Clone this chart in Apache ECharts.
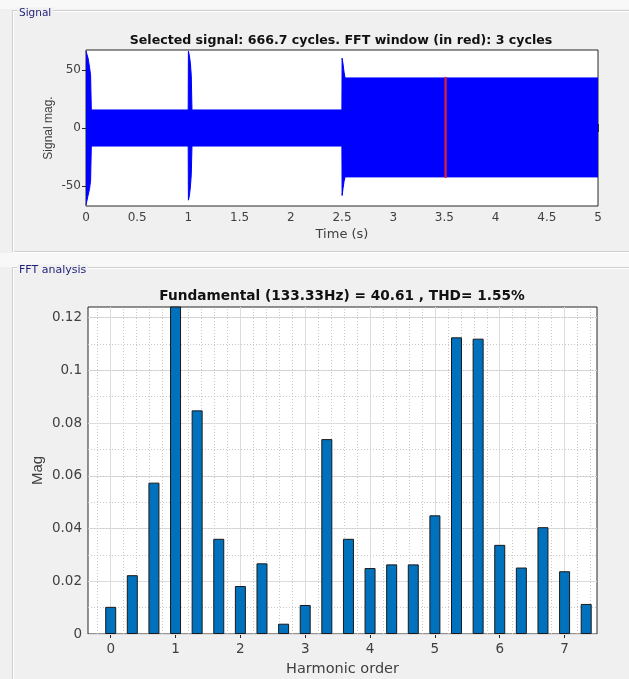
<!DOCTYPE html>
<html>
<head>
<meta charset="utf-8">
<title>Signal / FFT analysis</title>
<script src="https://cdn.jsdelivr.net/npm/echarts@6/dist/echarts.min.js"></script>
<style>
	html, body { margin: 0; padding: 0; background: #f0f0f0; }
	#chart { width: 629px; height: 679px; }
</style>
</head>
<body>
<div id="chart"></div>
<script>
/*******************************/
/*data*/
/*******************************/
//signal envelope: time (s), upper and lower peaks
var sigTime  = [0, 0.012, 0.02, 0.035, 0.045, 0.052, 0.998, 1.0, 1.01, 1.02, 1.028, 1.035, 2.499, 2.501, 2.51, 2.52, 2.53, 5.0];
var sigUpper = [66, 66, 60, 52, 45, 15.5, 15.5, 66, 62, 55, 45, 15.5, 15.5, 60, 55, 48, 43, 43];
var sigLower = [-66, -66, -58, -52, -45, -15.5, -15.5, -62, -58, -50, -40, -15.5, -15.5, -58, -52, -46, -42, -42];
//FFT window (3 cycles of 133.33 Hz)
var winTime  = [3.5, 3.5225];
var winUpper = [43, 43];
var winLower = [-42, -42];
var sigYTicks = [-50, 0, 50];

//harmonic spectrum
var harmOrder = [0, 0.3333, 0.6667, 1, 1.3333, 1.6667, 2, 2.3333, 2.6667, 3, 3.3333, 3.6667,
	4, 4.3333, 4.6667, 5, 5.3333, 5.6667, 6, 6.3333, 6.6667, 7, 7.3333];
var harmMag = [0.0103, 0.0223, 0.0574, 40.61, 0.0848, 0.0361, 0.0182, 0.0268, 0.0039, 0.011, 0.0739, 0.0361,
	0.025, 0.0264, 0.0264, 0.045, 0.1125, 0.112, 0.0338, 0.0252, 0.0405, 0.0238, 0.0114];
var fftXTicks = [0, 1, 2, 3, 4, 5, 6, 7];
var fftYTicks = [0, 0.02, 0.04, 0.06, 0.08, 0.1, 0.12];

/*******************************/
/*style constants*/
/*******************************/
var WIDE = '"DejaVu Sans", Verdana, sans-serif';
var FONT = '"Liberation Sans", Arial, sans-serif';
var INK = '#262626';
var LABEL = '#404040';
var BLUE = '#0000ff';
var RED = '#d81e3c';

/*
**pair two arrays into [x, y] points
*/
function zip(xs, ys) {
	return xs.map(function (x, i) { return [x, ys[i]]; });
}

/*
**grid lines for the FFT plot (major solid, minor dotted)
*/
function gridLines(ticks, step, lo, hi, key) {
	var lines = [];
	var major = step[0], minorStep = step[1];
	ticks.forEach(function (t) {
		var item = { lineStyle: { color: '#dcdcdc', type: 'solid', width: 1 } };
		item[key] = t;
		lines.push(item);
	});
	var start = Math.floor(lo / major) * major;
	for (var v = start; v < hi; v += major) {
		for (var j = 1; j * minorStep < major - 1e-9; j++) {
			var m = +(v + j * minorStep).toFixed(6);
			if (m > lo && m < hi) {
				var minor = { lineStyle: { color: '#c8c8c8', type: [1, 2], width: 1 } };
				minor[key] = m;
				lines.push(minor);
			}
		}
	}
	return lines;
}

/*
**tick-only companion axis (top / right box ticks)
*/
function boxAxis(base, pos) {
	return Object.assign({}, base, {
		position: pos,
		name: '',
		axisLine: { show: false },
		axisLabel: { show: false, customValues: base.axisTick.customValues },
		splitLine: { show: false }
	});
}

/*
**envelope series: area filled towards zero
*/
function band(name, xs, ys, color, width) {
	return {
		name: name, type: 'line', xAxisIndex: 0, yAxisIndex: 0,
		data: zip(xs, ys), symbol: 'none', silent: true,
		lineStyle: { color: color, width: width },
		areaStyle: { color: color, opacity: 1 }
	};
}

var sigX = {
	type: 'value', gridIndex: 0, min: 0, max: 5, interval: 0.5,
	name: 'Time (s)', nameLocation: 'middle', nameGap: 22,
	nameTextStyle: { color: LABEL, fontFamily: WIDE, fontSize: 13 },
	axisLine: { show: false },
	axisTick: { show: true, inside: true, length: 4, lineStyle: { color: INK } },
	axisLabel: { color: LABEL, fontFamily: WIDE, fontSize: 12, margin: 6 },
	splitLine: { show: false }
};
var sigY = {
	type: 'value', gridIndex: 0, min: -67, max: 67,
	name: 'Signal mag.', nameLocation: 'middle', nameGap: 31, nameRotate: 90, nameMoveOverlap: false,
	nameTextStyle: { color: LABEL, fontFamily: FONT, fontSize: 12 },
	axisLine: { show: false },
	axisTick: { show: true, inside: true, length: 4, lineStyle: { color: INK }, customValues: sigYTicks },
	axisLabel: { color: LABEL, fontFamily: WIDE, fontSize: 12, margin: 5, customValues: sigYTicks },
	splitLine: { show: false }
};
var fftX = {
	type: 'value', gridIndex: 1, min: -0.35, max: 7.5,
	name: 'Harmonic order', nameLocation: 'middle', nameGap: 28,
	nameTextStyle: { color: LABEL, fontFamily: WIDE, fontSize: 14.5 },
	axisLine: { show: false },
	axisTick: { show: true, inside: true, length: 4, lineStyle: { color: INK }, customValues: fftXTicks },
	axisLabel: { color: LABEL, fontFamily: WIDE, fontSize: 13.5, margin: 8, customValues: fftXTicks },
	splitLine: { show: false }
};
var fftY = {
	type: 'value', gridIndex: 1, min: 0, max: 0.124,
	name: 'Mag', nameLocation: 'middle', nameGap: 43, nameRotate: 90, nameMoveOverlap: false,
	nameTextStyle: { color: LABEL, fontFamily: FONT, fontSize: 15 },
	axisLine: { show: false },
	axisTick: { show: true, inside: true, length: 4, lineStyle: { color: INK }, customValues: fftYTicks },
	axisLabel: { color: LABEL, fontFamily: WIDE, fontSize: 13.5, margin: 6, customValues: fftYTicks },
	splitLine: { show: false }
};

/*
**panel frame (etched border with caption)
*/
function panel(x, y, w, h, caption, size) {
	return [
		{ type: 'rect', shape: { x: x + 0.5, y: y + 0.5, width: w, height: h }, style: { fill: 'none', stroke: '#cfcfcf', lineWidth: 1 }, silent: true },
		{ type: 'rect', shape: { x: x + 1.5, y: y + 1.5, width: w, height: h }, style: { fill: 'none', stroke: '#ffffff', lineWidth: 1 }, silent: true },
		{ type: 'text', x: x + 5, y: y + 3, style: { text: caption, fill: '#1f1f7a', font: size + 'px ' + WIDE, verticalAlign: 'middle', backgroundColor: '#f0f0f0', padding: [0, 2] }, silent: true }
	];
}

var chart = echarts.init(document.getElementById('chart'), null, { renderer: 'canvas' });

var graphics = [
	{ type: 'rect', shape: { x: 0, y: 0, width: 629, height: 9 }, style: { fill: '#f8f8f8' }, silent: true },
	{ type: 'rect', shape: { x: 0, y: 253, width: 629, height: 14 }, style: { fill: '#f8f8f8' }, silent: true }
]
	.concat(panel(12, 10, 650, 241, 'Signal', 10.5))
	.concat(panel(12, 267, 650, 460, 'FFT analysis', 11))
	.concat([
		{ type: 'text', x: 341, y: 41, style: { text: 'Selected signal: 666.7 cycles. FFT window (in red): 3 cycles', fill: '#111', font: 'bold 12.6px ' + WIDE, align: 'center', verticalAlign: 'middle' }, silent: true },
		{ type: 'text', x: 342, y: 296, style: { text: 'Fundamental (133.33Hz) = 40.61 , THD= 1.55%', fill: '#111', font: 'bold 13.7px ' + WIDE, align: 'center', verticalAlign: 'middle' }, silent: true }
	]);

chart.setOption({
	animation: false,
	backgroundColor: '#f0f0f0',
	graphic: { elements: graphics },
	grid: [
		{ left: 86, top: 50, width: 512, height: 156, show: true, backgroundColor: '#fff', borderColor: INK, borderWidth: 1 },
		{ left: 88, top: 307, width: 509, height: 327, show: true, backgroundColor: '#fff', borderColor: INK, borderWidth: 1 }
	],
	xAxis: [sigX, boxAxis(sigX, 'top'), fftX, boxAxis(fftX, 'top')],
	yAxis: [sigY, boxAxis(sigY, 'right'), fftY, boxAxis(fftY, 'right')],
	series: [
		band('upper', sigTime, sigUpper, BLUE, 1),
		band('lower', sigTime, sigLower, BLUE, 1),
		band('window upper', winTime, winUpper, RED, 2),
		band('window lower', winTime, winLower, RED, 2),
		{
			name: 'Mag', type: 'bar', xAxisIndex: 2, yAxisIndex: 2,
			data: zip(harmOrder, harmMag), barWidth: 11, clip: true, silent: true,
			itemStyle: { color: '#0072bd', borderColor: '#1a1a1a', borderWidth: 1 },
			markLine: {
				silent: true, z: 1, symbol: ['none', 'none'], label: { show: false },
				data: gridLines(fftXTicks, [1, 0.2], -0.35, 7.5, 'xAxis')
					.concat(gridLines(fftYTicks, [0.02, 0.005], 0, 0.124, 'yAxis'))
			}
		}
	]
});
</script>
</body>
</html>
